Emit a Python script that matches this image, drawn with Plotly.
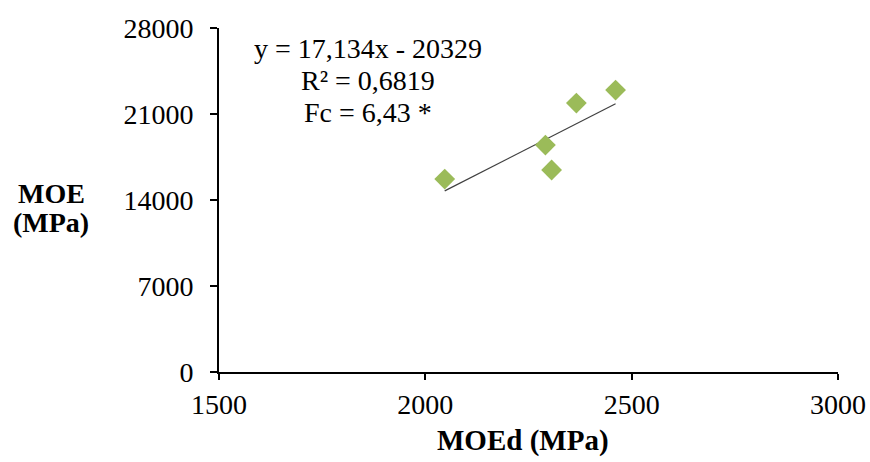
import plotly.graph_objects as go

# Dynamic vs static modulus of elasticity
moed = [2047, 2291, 2306, 2366, 2461]
moe = [15700, 18470, 16440, 21890, 22950]

# Fitted linear regression
slope = 17.134
intercept = -20329
eq_lines = ["y = 17,134x - 20329", "R² = 0,6819", "Fc = 6,43 *"]
eq_y = [26300, 23700, 21150]

x_ticks = [1500, 2000, 2500, 3000]
y_ticks = [0, 7000, 14000, 21000, 28000]

FONT = "Times New Roman, Liberation Serif, serif"

fit_x = [min(moed), max(moed)]
fit_y = [slope * v + intercept for v in fit_x]

fig = go.Figure()
fig.add_trace(go.Scatter(
    x=fit_x, y=fit_y, mode="lines",
    line=dict(color="#404040", width=1.2),
    hoverinfo="skip", showlegend=False,
))
fig.add_trace(go.Scatter(
    x=moed, y=moe, mode="markers",
    marker=dict(symbol="diamond", size=16, color="#9BBB59",
                line=dict(width=0)),
    showlegend=False,
))

annotations = [
    dict(text="<b>MOEd (MPa)</b>", xref="paper", yref="paper",
         x=0.491, y=-0.20, xanchor="center", yanchor="middle",
         showarrow=False, font=dict(family=FONT, size=29)),
    dict(text="<b>MOE</b>", xref="paper", yref="paper",
         x=-0.271, y=0.52, xanchor="center", yanchor="middle",
         showarrow=False, font=dict(family=FONT, size=28)),
    dict(text="<b>(MPa)</b>", xref="paper", yref="paper",
         x=-0.271, y=0.436, xanchor="center", yanchor="middle",
         showarrow=False, font=dict(family=FONT, size=28)),
]
for line, yv in zip(eq_lines, eq_y):
    annotations.append(dict(
        text=line, xref="x", yref="y", x=1861, y=yv,
        xanchor="center", yanchor="middle", showarrow=False,
        font=dict(family=FONT, size=28),
    ))

fig.update_layout(
    width=870, height=462,
    margin=dict(l=219, r=32, t=28, b=90, autoexpand=False),
    paper_bgcolor="white", plot_bgcolor="white",
    font=dict(family=FONT, size=28, color="black"),
    xaxis=dict(
        range=[1500, 3000], tickvals=x_ticks, ticktext=[str(v) for v in x_ticks],
        showgrid=False, zeroline=False, showline=True, linecolor="black",
        linewidth=2, ticks="outside", ticklen=6, tickwidth=2, tickcolor="black",
        tickfont=dict(family=FONT, size=28), automargin=False,
    ),
    yaxis=dict(
        range=[0, 28000], tickvals=y_ticks, ticktext=[str(v) for v in y_ticks],
        showgrid=False, zeroline=False, showline=True, linecolor="black",
        linewidth=2, ticks="outside", ticklen=7, tickwidth=2, tickcolor="black",
        tickfont=dict(family=FONT, size=28), automargin=False,
        ticklabelstandoff=11,
    ),
    annotations=annotations,
)

fig.write_html("out.html")
